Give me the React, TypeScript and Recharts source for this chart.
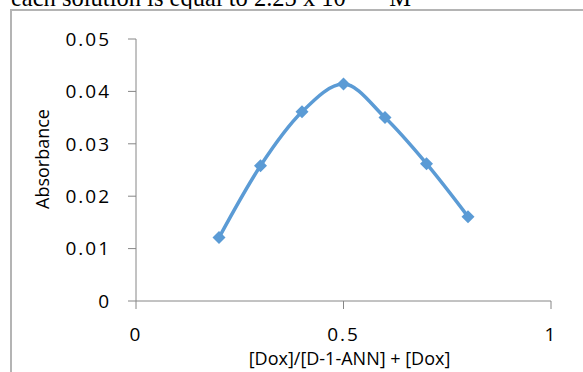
import React from 'react';
import { LineChart, Line, XAxis, YAxis, Label } from 'recharts';

// mole fraction of Dox (Job plot)
const fractions = [0.2, 0.3, 0.4, 0.5, 0.6, 0.7, 0.8];
const absorbance = [0.0121, 0.0258, 0.0361, 0.0414, 0.035, 0.0262, 0.0161];
const xTicks = [0, 0.5, 1];
const yTicks = [0, 0.01, 0.02, 0.03, 0.04, 0.05];

const data = fractions.map((f, i) => ({ f, a: absorbance[i] }));

const BLUE = '#5B9BD5';
const AXIS = '#868686';
const FONT = '"Open Sans", "Liberation Sans", sans-serif';

const Diamond = (props: any) => {
  const { cx, cy, index } = props;
  if (cx == null || cy == null) return null;
  const r = 6.5;
  return (
    <path
      key={`d-${index}`}
      d={`M${cx},${cy - r}L${cx + r},${cy}L${cx},${cy + r}L${cx - r},${cy}Z`}
      fill={BLUE}
    />
  );
};

const App: React.FC = () => {
  const tick = { fill: '#000', fontSize: 19, fontFamily: FONT, letterSpacing: 2 };
  return (
    <div style={{ position: 'absolute', left: 0, top: 0, width: 583, height: 372, overflow: 'hidden', background: '#fff' }}>
      {/* caption line of the page above the chart, mostly cut off */}
      <svg width={583} height={20} style={{ position: 'absolute', left: 0, top: 0 }}>
        <text x={11} y={6} fontSize={24.5} fontFamily='"Liberation Serif", "Times New Roman", serif' fill="#000">
          each solution is equal to 2.25 x 10
          <tspan dx={6} dy={-10} fontSize={16}>-5</tspan>
          <tspan dx={24} dy={10}>M</tspan>
        </text>
      </svg>
      <div
        style={{
          position: 'absolute',
          left: 10,
          top: 9,
          width: 600,
          height: 400,
          borderTop: '2px solid #b4b4b4',
          borderLeft: '2px solid #b4b4b4',
        }}
      />
      <div style={{ position: 'absolute', left: 0, top: 0 }}>
        <LineChart width={583} height={372} data={data} margin={{ top: 39, right: 32, bottom: 0, left: 0 }}>
          <XAxis
            dataKey="f"
            type="number"
            domain={[0, 1]}
            ticks={xTicks}
            stroke={AXIS}
            tickSize={8}
            tickMargin={19}
            tick={tick}
            height={71}
          >
            <Label
              content={(p: any) => {
                const vb = p.viewBox;
                return (
                  <text
                    x={vb.x + vb.width / 2 + 6}
                    y={vb.y + vb.height - 7}
                    textAnchor="middle"
                    fontSize={18}
                    fontFamily={FONT}
                    fill="#000"
                  >
                    [Dox]/[D-1-ANN] + [Dox]
                  </text>
                );
              }}
            />
          </XAxis>
          <YAxis
            type="number"
            domain={[0, 0.05]}
            ticks={yTicks}
            stroke={AXIS}
            tickSize={8}
            tickMargin={17}
            tick={tick}
            width={136}
          >
            <Label
              content={(p: any) => {
                const vb = p.viewBox;
                const cx = vb.x + 42;
                const cy = vb.y + vb.height / 2 - 11;
                return (
                  <text
                    x={cx}
                    y={cy}
                    transform={`rotate(-90 ${cx} ${cy})`}
                    textAnchor="middle"
                    dominantBaseline="central"
                    fontSize={18}
                    fontFamily={FONT}
                    fill="#000"
                  >
                    Absorbance
                  </text>
                );
              }}
            />
          </YAxis>
          <Line
            type="monotone"
            dataKey="a"
            stroke={BLUE}
            strokeWidth={3.5}
            dot={<Diamond />}
            activeDot={false}
            isAnimationActive={false}
          />
        </LineChart>
      </div>
    </div>
  );
};

export default App;
